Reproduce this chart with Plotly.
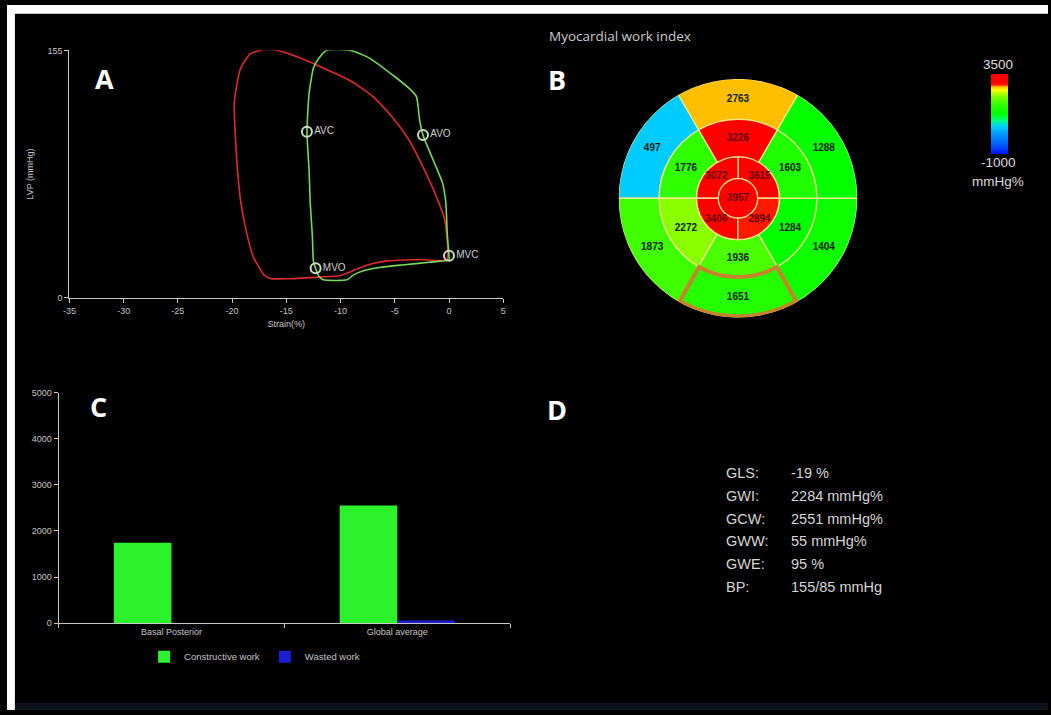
import plotly.graph_objects as go

W, H = 1051, 715


def px(x):
    return x / W


def py(y):
    return 1 - y / H


# ---------------- Panel A : pressure-strain loops ----------------
red_strain = [-0.2, -0.4, -1.2, -2.4, -3.7, -5.2, -7.0, -9.1, -11.6, -14.0, -15.8, -17.0,
              -18.3, -19.2, -19.6, -19.8, -19.7, -19.5, -19.2, -18.6, -18.0, -17.0, -16.4,
              -14.9, -11.9, -10.0, -8.5, -7.3, -5.8, -2.7, -0.2]
red_lvp = [24, 49, 64, 82, 99, 113, 126, 136, 144, 151, 155, 155.5,
           153, 144, 132, 122, 101, 80, 60, 39, 25, 14, 12,
           12, 13, 14, 18, 21, 23, 24, 24]

green_strain = [0.0, -0.15, -0.3, -0.6, -1.5, -2.4, -2.7, -3.0, -3.65, -4.9, -7.3, -8.8,
                -10.3, -11.3, -12.0, -12.5, -12.9, -13.1, -12.9, -12.8, -12.6, -12.5, -12.3,
                -12.0, -11.6, -9.4, -8.8, -7.9, -6.4, -4.3, -1.8, 0.0, 0.0]
green_lvp = [26, 39, 60, 72, 87, 102, 111, 126, 131, 138, 150, 154.5,
             155.5, 155, 150, 144, 128, 104, 80, 60, 39, 23, 18.5,
             13.5, 11.3, 11.3, 14.4, 17, 19, 20.6, 22.3, 23.7, 26]

event_names = ["AVC", "AVO", "MVC", "MVO"]
event_strain = [-13.1, -2.4, 0.0, -12.3]
event_lvp = [104, 102, 26.4, 18.5]

strain_ticks = [-35, -30, -25, -20, -15, -10, -5, 0, 5]
lvp_ticks = [0, 155]

# ---------------- Panel B : myocardial work index bullseye ----------------
wall_labels = ["ANT_SEPT", "SEPT", "INF", "POST", "LAT", "ANT"]
basal_values = [2763, 497, 1873, 1651, 1404, 1288]
mid_values = [3226, 1776, 2272, 1936, 1284, 1603]
apical_values = [3615, 3072, 3406, 2894]
apex_value = 3957
highlight_wall = "POST"
cbar_min, cbar_max = -1000, 3500

# ---------------- Panel C : constructive / wasted work ----------------
bar_categories = ["Basal Posterior", "Global average"]
constructive_work = [1745, 2551]
wasted_work = [0, 60]
work_ticks = [0, 1000, 2000, 3000, 4000, 5000]

# ---------------- Panel D : global indices ----------------
summary_labels = ["GLS:", "GWI:", "GCW:", "GWW:", "GWE:", "BP:"]
summary_values = ["-19 %", "2284 mmHg%", "2551 mmHg%", "55 mmHg%", "95 %", "155/85 mmHg"]

# ---------------------------------------------------------------
AX = "#c8c8c8"
TXT = "#c4c4c4"
FONT = "Arial"

fig = go.Figure()

# Panel A traces
fig.add_trace(go.Scatter(x=red_strain, y=red_lvp, mode="lines", line=dict(color="#dd2a2a", width=1.6, shape="spline", smoothing=0.5),
                         cliponaxis=False, showlegend=False, hoverinfo="skip", xaxis="x", yaxis="y"))
fig.add_trace(go.Scatter(x=green_strain, y=green_lvp, mode="lines", line=dict(color="#78d858", width=1.6, shape="spline", smoothing=0.5),
                         cliponaxis=False, showlegend=False, hoverinfo="skip", xaxis="x", yaxis="y"))
fig.add_trace(go.Scatter(x=event_strain, y=event_lvp, mode="markers+text", text=event_names, textposition="middle right",
                         textfont=dict(size=10, color="#d0d0d0", family=FONT),
                         marker=dict(symbol="circle-open", size=10, color="#c8dcc0", line=dict(width=2)),
                         cliponaxis=False, showlegend=False, hoverinfo="skip", xaxis="x", yaxis="y"))

# Panel B traces
ring_edges = [0.0, 0.165, 0.347, 0.661, 1.0]
theta6 = [90, 150, 210, 270, 330, 30]
theta4 = [45, 135, 225, 315]

seg_theta, seg_width, seg_base, seg_r, seg_val, seg_text_r = [], [], [], [], [], []
for v, t in zip(basal_values, theta6):
    seg_theta.append(t); seg_width.append(60); seg_base.append(ring_edges[3]); seg_r.append(ring_edges[4] - ring_edges[3]); seg_val.append(v)
    seg_text_r.append((ring_edges[3] + ring_edges[4]) / 2)
for v, t in zip(mid_values, theta6):
    seg_theta.append(t); seg_width.append(60); seg_base.append(ring_edges[2]); seg_r.append(ring_edges[3] - ring_edges[2]); seg_val.append(v)
    seg_text_r.append((ring_edges[2] + ring_edges[3]) / 2)
for v, t in zip(apical_values, theta4):
    seg_theta.append(t); seg_width.append(90); seg_base.append(ring_edges[1]); seg_r.append(ring_edges[2] - ring_edges[1]); seg_val.append(v)
    seg_text_r.append((ring_edges[1] + ring_edges[2]) / 2)
seg_theta.append(0); seg_width.append(360); seg_base.append(0); seg_r.append(ring_edges[1]); seg_val.append(apex_value)
seg_text_r.append(0)

fig.add_trace(go.Barpolar(r=seg_r, base=seg_base, theta=seg_theta, width=seg_width,
                          marker=dict(color=seg_val, coloraxis="coloraxis",
                                      line=dict(color="rgba(255,236,150,0.85)", width=1.3)),
                          showlegend=False, hoverinfo="skip", subplot="polar"))

hi = wall_labels.index(highlight_wall)
fig.add_trace(go.Barpolar(r=[seg_r[hi] - 0.01], base=[seg_base[hi]], theta=[seg_theta[hi]], width=[seg_width[hi] - 1],
                          marker=dict(color="rgba(0,0,0,0)", line=dict(color="#c8822c", width=4)),
                          showlegend=False, hoverinfo="skip", subplot="polar"))

text_theta = [t if w < 360 else 0 for t, w in zip(seg_theta, seg_width)]
text_cols = ["#6a0000" if v >= 2850 else "#0c240c" for v in seg_val]
fig.add_trace(go.Scatterpolar(r=seg_text_r, theta=text_theta, mode="text",
                              text=["<b>%d</b>" % v for v in seg_val],
                              textfont=dict(size=10, color=text_cols, family=FONT),
                              cliponaxis=False, showlegend=False, hoverinfo="skip", subplot="polar"))
fig.add_trace(go.Scatterpolar(r=[1.105] * 6, theta=theta6, mode="text", text=["<b>%s</b>" % s for s in wall_labels],
                              textfont=dict(size=10.5, color="#cfcfcf", family="Open Sans"),
                              cliponaxis=False, showlegend=False, hoverinfo="skip", subplot="polar"))

# Panel C traces
fig.add_trace(go.Bar(x=bar_categories, y=constructive_work, name="Constructive work", marker=dict(color="#2cf22c", line=dict(width=0)),
                     xaxis="x2", yaxis="y2", hoverinfo="skip"))
fig.add_trace(go.Bar(x=bar_categories, y=wasted_work, name="Wasted work", marker=dict(color="#1c1cd0", line=dict(width=0)),
                     xaxis="x2", yaxis="y2", hoverinfo="skip"))

colorscale = [[0.0, "#0010ff"], [0.12, "#0060ff"], [0.25, "#0098ff"], [0.34, "#00d0ff"],
              [0.42, "#00ff80"], [0.5, "#00ff00"], [0.62, "#30ff00"], [0.72, "#80ff00"],
              [0.8, "#ffff00"], [0.845, "#ffb000"], [0.86, "#ff2000"], [0.89, "#ff0000"], [1.0, "#ff0000"]]

axis_common = dict(showline=True, linecolor=AX, linewidth=1, ticks="outside", ticklen=4, tickcolor=AX,
                   showgrid=False, zeroline=False, tickfont=dict(size=9, color=TXT, family=FONT))

annotations = []
for lab, (x, y) in zip(["A", "B", "C", "D"], [(98, 75), (555, 76), (92, 407), (555, 410)]):
    annotations.append(dict(text="<b>%s</b>" % lab, x=px(x), y=py(y), xref="paper", yref="paper", showarrow=False,
                            font=dict(size=27, color="white", family="Open Sans"), xanchor="center", yanchor="middle"))
annotations.append(dict(text="Myocardial work index", x=px(619), y=py(31), xref="paper", yref="paper", showarrow=False,
                        font=dict(size=13.5, color="#cccccc", family="Open Sans"), xanchor="center", yanchor="middle"))
for txt, yy in [(str(cbar_max), 60), (str(cbar_min), 160), ("mmHg%", 179)]:
    annotations.append(dict(text=txt, x=px(1001), y=py(yy), xref="paper", yref="paper", showarrow=False,
                            font=dict(size=13.5, color="#dddddd", family=FONT), xanchor="center", yanchor="middle"))
for i, (lab, val) in enumerate(zip(summary_labels, summary_values)):
    yy = 475 + i * 23
    annotations.append(dict(text=lab, x=px(724), y=py(yy), xref="paper", yref="paper", showarrow=False,
                            font=dict(size=14.5, color="#d6d6d6", family=FONT), xanchor="left", yanchor="middle"))
    annotations.append(dict(text=val, x=px(790), y=py(yy), xref="paper", yref="paper", showarrow=False,
                            font=dict(size=14.5, color="#d6d6d6", family=FONT), xanchor="left", yanchor="middle"))

shapes = [
    dict(type="rect", xref="paper", yref="paper", x0=0, x1=1, y0=py(9), y1=1, fillcolor="white", line=dict(width=0), layer="below"),
    dict(type="rect", xref="paper", yref="paper", x0=0, x1=px(8), y0=0, y1=1, fillcolor="white", line=dict(width=0), layer="below"),
    dict(type="rect", xref="paper", yref="paper", x0=px(8), x1=1, y0=0, y1=py(708), fillcolor="#0d1119", line=dict(width=0), layer="below"),
]

fig.update_layout(
    width=W, height=H, autosize=False,
    margin=dict(l=0, r=0, t=0, b=0),
    paper_bgcolor="#000000", plot_bgcolor="rgba(0,0,0,0)",
    font=dict(family=FONT, color=TXT),
    xaxis=dict(domain=[px(63), px(501)], range=[-35, 5], tickvals=strain_ticks, ticktext=[str(t) for t in strain_ticks],
               anchor="y", title=dict(text="Strain(%)", font=dict(size=9, color=TXT), standoff=6), **axis_common),
    yaxis=dict(domain=[py(297), py(46)], range=[0, 155], tickvals=lvp_ticks, ticktext=[str(t) for t in lvp_ticks],
               anchor="x", title=dict(text="LVP (mmHg)", font=dict(size=9, color=TXT), standoff=12), **axis_common),
    xaxis2=dict(domain=[px(52), px(508)], anchor="y2", type="category", tickson="boundaries", **axis_common),
    yaxis2=dict(domain=[py(627), py(393)], range=[0, 5000], tickvals=work_ticks, ticktext=[str(t) for t in work_ticks],
                anchor="x2", **axis_common),
    barmode="group", bargap=0.49, bargroupgap=0,
    polar=dict(domain=dict(x=[px(617), px(859)], y=[py(317), py(75)]), bgcolor="rgba(0,0,0,0)",
               radialaxis=dict(visible=False, range=[0, 1]),
               angularaxis=dict(visible=False, direction="counterclockwise", rotation=0)),
    coloraxis=dict(cmin=cbar_min, cmax=cbar_max, colorscale=colorscale,
                   colorbar=dict(x=px(993), xanchor="left", y=py(70), yanchor="top", len=80, lenmode="pixels",
                                 thickness=17, thicknessmode="pixels", showticklabels=False, ticks="",
                                 outlinewidth=0, xpad=0, ypad=0)),
    legend=dict(orientation="h", x=px(250), xanchor="center", y=py(661), yanchor="middle",
                font=dict(size=9.5, color=TXT, family=FONT), bgcolor="rgba(0,0,0,0)", itemwidth=30),
    annotations=annotations, shapes=shapes,
)

fig.write_html("out.html", config={"displayModeBar": False},
               post_script="document.body.style.margin='0';document.body.style.overflow='hidden';")
